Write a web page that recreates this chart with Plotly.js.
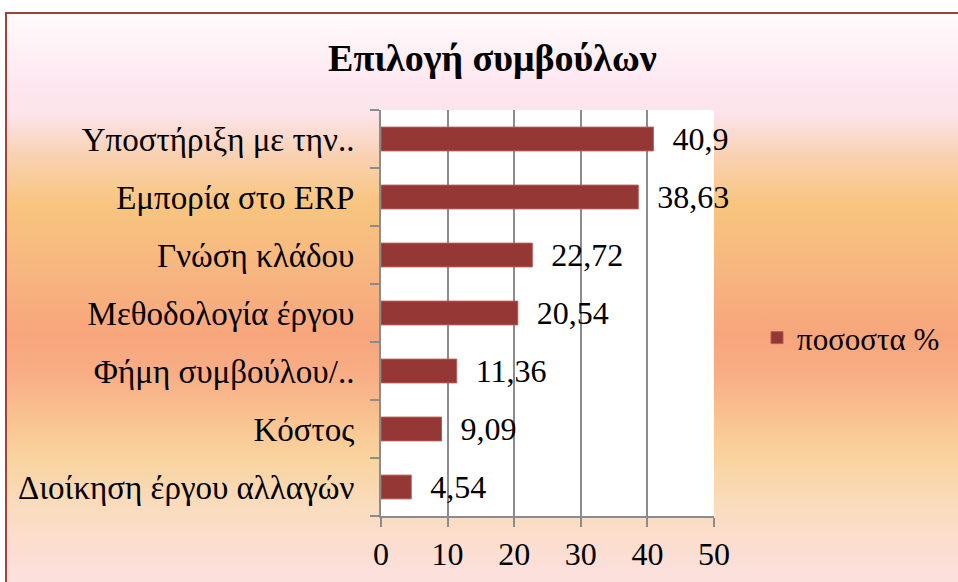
<!DOCTYPE html>
<html>
<head>
<meta charset="utf-8">
<script src="https://cdn.plot.ly/plotly-3.0.1.min.js"></script>
<style>
  html, body { margin: 0; padding: 0; width: 958px; height: 582px; overflow: hidden; background: #ffffff; }
  #bg {
    position: absolute; left: 5px; top: 12px; width: 960px; height: 580px;
    border-left: 2px solid #a3403e; border-top: 2px solid #a3403e;
    background: linear-gradient(to bottom,
      #fffbfc 0px, #fce6ef 75px, #fce4ea 100px, #f9d2b4 140px, #f8c57f 190px,
      #f7b580 260px, #f7a67c 320px, #f8ad85 360px, #f9c592 410px, #f9d49f 445px,
      #fadcc0 495px, #fce0dc 560px, #fce0dc 580px);
  }
  #chart { position: absolute; left: 0; top: 0; width: 958px; height: 582px; }
</style>
</head>
<body>
<div id="bg"></div>
<div id="chart"></div>
<script>
const categories = [
  "Διοίκηση έργου αλλαγών",
  "Κόστος",
  "Φήμη συμβούλου/..",
  "Μεθοδολογία έργου",
  "Γνώση κλάδου",
  "Εμπορία στο ERP",
  "Υποστήριξη με την.."
];
const values = [4.54, 9.09, 11.36, 20.54, 22.72, 38.63, 40.9];
const seriesName = "ποσοστα %";
const xTicks = [0, 10, 20, 30, 40, 50];

const serif = "'Liberation Serif', 'Times New Roman', serif";
const barColor = "#953735";

const trace = {
  type: "bar",
  orientation: "h",
  y: categories,
  x: values,
  name: seriesName,
  text: values.map(v => "\u00a0\u00a0" + String(v).replace(".", ",")),
  textposition: "outside",
  constraintext: "none",
  cliponaxis: false,
  textfont: { family: serif, size: 32, color: "#000" },
  marker: { color: barColor, line: { color: "#b85a58", width: 1 } },
  showlegend: true
};

const layout = {
  width: 958, height: 582,
  margin: { l: 381, r: 244, t: 110, b: 66 },
  paper_bgcolor: "rgba(0,0,0,0)",
  plot_bgcolor: "#ffffff",
  bargap: 0.59,
  font: { family: serif, color: "#000" },
  title: {
    text: "<b>Επιλογή συμβούλων</b>",
    font: { family: serif, size: 38, color: "#000" },
    x: 0.514, xanchor: "center",
    y: 1 - 58 / 582, yanchor: "middle", yref: "container"
  },
  xaxis: {
    range: [0, 50],
    tickvals: xTicks,
    ticktext: xTicks.map(String),
    showgrid: true, gridcolor: "#8c8c8c", gridwidth: 2,
    showline: true, linecolor: "#8c8c8c", linewidth: 2,
    ticks: "outside", ticklen: 9, tickcolor: "#8c8c8c", tickwidth: 2,
    tickfont: { family: serif, size: 32, color: "#000" },
    ticklabelstandoff: 0,
    zeroline: false, fixedrange: true
  },
  yaxis: {
    type: "category",
    categoryorder: "array", categoryarray: categories,
    showline: true, linecolor: "#8c8c8c", linewidth: 2,
    ticks: "outside", ticklen: 9, tickcolor: "#8c8c8c", tickwidth: 2,
    tickson: "boundaries",
    tickfont: { family: serif, size: 33, color: "#000" },
    ticklabelstandoff: 18,
    showgrid: false, fixedrange: true
  },
  legend: {
    xref: "container", yref: "container",
    x: 757 / 958, y: 1 - 338 / 582, yanchor: "middle", xanchor: "left",
    font: { family: serif, size: 31, color: "#000" },
    bgcolor: "rgba(0,0,0,0)",
    itemwidth: 30
  },
  showlegend: true
};

Plotly.newPlot("chart", [trace], layout, { displayModeBar: false, staticPlot: true });
</script>
</body>
</html>
